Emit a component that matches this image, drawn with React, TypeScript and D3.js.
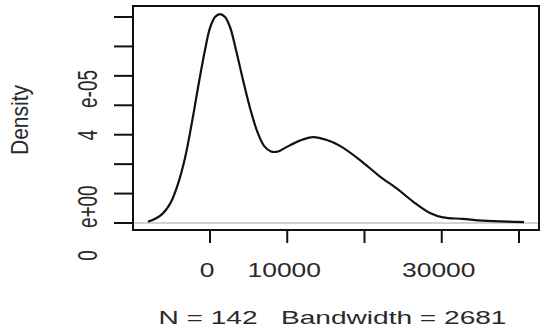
import React from 'react';
import * as d3 from 'd3';

// density estimate (x in data units, density in 1e-05)
const xVals = [-8026, -6472, -5178, -4142, -3236, -2330, -1424, -647, 0, 647, 1294, 1942, 2589, 3366, 4272, 5178, 6084, 6990, 7896, 8803, 9838, 11650, 13333, 15146, 16828, 19417, 22006, 24207, 26278, 28479, 30162, 32751, 35340, 39223, 40647];
const densVals = [0.044, 0.24, 0.65, 1.33, 2.21, 3.43, 4.79, 5.88, 6.63, 7.0, 7.1, 7.0, 6.66, 5.88, 4.86, 3.91, 3.13, 2.62, 2.43, 2.43, 2.57, 2.8, 2.92, 2.82, 2.62, 2.14, 1.58, 1.17, 0.73, 0.34, 0.19, 0.14, 0.08, 0.04, 0.03];

const xTicks = [0, 10000, 20000, 30000, 40000];
const xTickLabels = ['0', '10000', '', '30000', ''];
const yTicks = [0, 1, 2, 3, 4, 5, 6, 7];
const yTickLabels: [string, string][] = [['0', 'e+00'], ['', ''], ['', ''], ['', ''], ['4', 'e-05'], ['', ''], ['', ''], ['', '']];

const xLab = 'N = 142   Bandwidth = 2681';
const yLab = 'Density';

const W = 541;
const H = 333;
const box = { left: 133, right: 539, top: 6, bottom: 230 };

export default function App() {
  const points = xVals.map((x, i) => ({ x, d: densVals[i] }));

  // scales fitted to the tick positions in the picture
  const x = d3.scaleLinear().domain([0, 40000]).range([210, 519]);
  const y = d3.scaleLinear().domain([0, 7]).range([223, 17]);

  const line = d3.line<{ x: number; d: number }>()
    .curve(d3.curveCatmullRom.alpha(0.5))
    .x(p => x(p.x))
    .y(p => y(p.d));

  const font = '"Liberation Sans", Arial, sans-serif';
  const ink = '#111';
  const textInk = '#2a2a2a';

  return (
    <svg width={W} height={H} style={{ position: 'absolute', left: 0, top: 0, background: '#fff' }} fontFamily={font}>
      {/* zero line */}
      <line x1={box.left} x2={box.right} y1={y(0)} y2={y(0)} stroke="#c4c4c4" strokeWidth={1.5} />

      {/* density curve */}
      <path d={line(points) || ''} fill="none" stroke={ink} strokeWidth={2.2} strokeLinejoin="round" />

      {/* box */}
      <rect x={box.left} y={box.top} width={box.right - box.left} height={box.bottom - box.top}
        fill="none" stroke={ink} strokeWidth={2} />

      {/* x axis */}
      <g>
        {xTicks.map((t, i) => (
          <g key={t}>
            <line x1={x(t)} x2={x(t)} y1={box.bottom} y2={box.bottom + 13} stroke={ink} strokeWidth={2} />
            {xTickLabels[i] && (
              <text transform={`translate(${x(t) - 3},277) scale(1.26,1)`} textAnchor="middle"
                fontSize={21} fill={textInk}>{xTickLabels[i]}</text>
            )}
          </g>
        ))}
      </g>

      {/* y axis */}
      <g>
        {yTicks.map((t, i) => (
          <g key={t}>
            <line x1={box.left - 19} x2={box.left} y1={y(t)} y2={y(t)} stroke={ink} strokeWidth={2} />
            {yTickLabels[i][0] && (
              <text transform={`translate(96.5,${y(t)}) rotate(-90) scale(1,1.5)`} textAnchor="middle"
                fontSize={19} fill={textInk}>
                <tspan>{yTickLabels[i][0]}</tspan>
                <tspan dx={22}>{yTickLabels[i][1]}</tspan>
              </text>
            )}
          </g>
        ))}
      </g>

      {/* axis titles */}
      <text x={332.5} y={323.5} textAnchor="middle" fontSize={18.5} fill={textInk}
        textLength={348} lengthAdjust="spacingAndGlyphs" style={{ whiteSpace: 'pre' }}>{xLab}</text>
      <text transform={`translate(28,120) rotate(-90)`} textAnchor="middle"
        fontSize={24} fill={textInk} textLength={70} lengthAdjust="spacingAndGlyphs">{yLab}</text>
    </svg>
  );
}
